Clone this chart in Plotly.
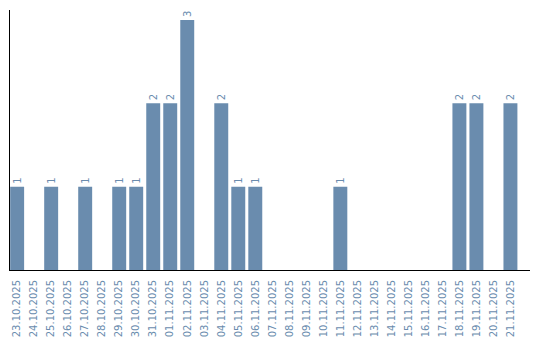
import plotly.graph_objects as go

dates = ["23.10.2025", "24.10.2025", "25.10.2025", "26.10.2025", "27.10.2025",
         "28.10.2025", "29.10.2025", "30.10.2025", "31.10.2025", "01.11.2025",
         "02.11.2025", "03.11.2025", "04.11.2025", "05.11.2025", "06.11.2025",
         "07.11.2025", "08.11.2025", "09.11.2025", "10.11.2025", "11.11.2025",
         "12.11.2025", "13.11.2025", "14.11.2025", "15.11.2025", "16.11.2025",
         "17.11.2025", "18.11.2025", "19.11.2025", "20.11.2025", "21.11.2025"]
counts = [1, 0, 1, 0, 1, 0, 1, 1, 2, 2,
          3, 0, 2, 1, 1, 0, 0, 0, 0, 1,
          0, 0, 0, 0, 0, 0, 2, 2, 0, 2]

color = "#6a8cae"
labels = [str(v) if v else "" for v in counts]

fig = go.Figure(go.Bar(
    x=dates, y=counts, marker_color=color, marker_line_width=0,
    text=labels, textposition="outside", textangle=-90,
    textfont=dict(family="DejaVu Sans", size=10, color=color),
    cliponaxis=False,
))

fig.update_layout(
    width=540, height=340,
    margin=dict(l=10, r=10, t=10, b=70),
    plot_bgcolor="white", paper_bgcolor="white",
    bargap=0.18, showlegend=False,
    font=dict(family="DejaVu Sans", size=10, color=color),
)
fig.update_xaxes(
    type="category", range=[-0.42, 30.15], showline=True, linecolor="black", linewidth=1,
    showgrid=False, ticks="", tickangle=-90, tickfont=dict(size=10, color=color),
    ticklabelstandoff=5, zeroline=False, automargin=False,
)
fig.update_yaxes(
    range=[0, 3.12], showline=True, linecolor="black", linewidth=1,
    showgrid=False, showticklabels=False, ticks="", zeroline=False, automargin=False,
)

fig.write_html("out.html")
